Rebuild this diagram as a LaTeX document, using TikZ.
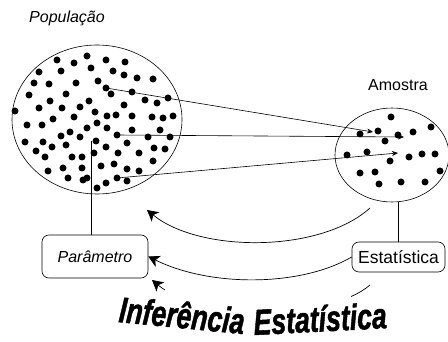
\documentclass[tikz,border=0pt]{standalone}
\usepackage{fontspec}
\newfontfamily\labelfont{Liberation Sans}
\newfontfamily\titlefont{Liberation Sans Bold Italic}[FakeBold=1.5]
\usetikzlibrary{arrows.meta,shapes.geometric}

\begin{document}
\begin{tikzpicture}[x=1pt,y=-1pt,>={Stealth[length=11pt,width=12pt,inset=3pt]},
    set/.style={draw,ellipse,line width=0.6pt,inner sep=0pt},
    box/.style={draw,rounded corners=7pt,line width=0.6pt,inner sep=0pt},
    word/.style={font=\labelfont\fontsize{16}{16}\selectfont},
    title/.style={inner sep=0pt,anchor=base west,font=\titlefont\fontsize{36}{36}\selectfont},
    pick/.style={-{Stealth[length=6pt,width=5pt]},line width=0.6pt},
    infer/.style={->,line width=0.7pt}]

                \useasboundingbox (0,0) rectangle (448,342);

                \node[set,minimum width=170pt,minimum height=149pt] (pop) at (97,119.5) {};

                \node[set,minimum width=114pt,minimum height=94pt] (amo) at (392,155) {};

                \node[word] (poplabel) at (67,18) {\itshape População};

                \node[word] (amolabel) at (398,85) {Amostra};

                \node[box,word,minimum width=106pt,minimum height=43pt] (par) at (95,256.5) {\itshape Parâmetro};

                \node[box,font=\labelfont\fontsize{17.5}{17.5}\selectfont,minimum width=93pt,minimum height=30pt] (est) at (398.5,257) {Estatística};

                % dots of the population
                \foreach \x/\y in {57/60, 74/63, 87/56, 106/60, 125/62, 39/72, 61/71, 91/68, 113/71, 124/75,
                    137/78, 153/79, 34/83, 49/84, 76/83, 98/81, 106/88, 111/94, 132/92, 145/100, 157/103,
                    168/98, 29/95, 50/101, 66/94, 89/101, 124/105, 15/111, 39/108, 80/107, 62/108, 95/112,
                    107/116, 116/115, 132/116, 152/117, 163/118, 173/116, 27/125, 42/125, 53/119, 74/117,
                    97/123, 107/128, 87/128, 70/132, 80/137, 61/136, 117/135, 132/130, 148/137, 160/130,
                    170/137, 25/142, 43/142, 52/147, 66/145, 96/141, 106/147, 127/143, 154/148, 165/149,
                    36/151, 45/157, 72/157, 82/157, 94/153, 118/153, 139/153, 153/161, 101/166, 114/164,
                    63/168, 82/168, 48/171, 127/169, 139/171, 68/178, 83/180, 87/178, 106/183, 117/178,
                    127/181, 97/188}
                    {
                    \fill (\x,\y) circle (3.5);
                    }

                % dots of the sample
                \foreach \x/\y in {391/117, 360/134, 378/131, 385/141, 398/135, 413/132, 431/127, 347/155,
                    367/152, 390/161, 409/157, 422/154, 435/154, 440/171, 360/173, 375/172, 379/184,
                    401/182, 425/182}
                    {
                    \fill (\x,\y) circle (3.5);
                    }

                \coordinate (p1) at (106,88);
                \coordinate (p2) at (117,135);
                \coordinate (p3) at (117,178);
                \coordinate (s1) at (373,132);
                \coordinate (s2) at (404,137);
                \coordinate (s3) at (398,153);

                \foreach \from/\to in {p1/s1, p2/s2, p3/s3}
                    {
                    \draw[pick] (\from) -- (\to);
                    }

                \coordinate (pp) at (91,141);
                \draw[line width=0.6pt] (pp) -- (pp |- par.north);
                \draw[line width=0.6pt] (est.north) -- (est.north |- amo.south);

                \coordinate (i1s) at (370,208);
                \coordinate (i1e) at (147,210);
                \coordinate (i3s) at (370,285);
                \coordinate (i3e) at (152,280);

                \draw[infer] (i1s) .. controls (320,253) and (200,253) .. (i1e);
                \draw[infer] (est.west) .. controls (300,287) and (210,287) .. (par.east);
                \draw[infer] (i3s) .. controls (330,320) and (200,320) .. (i3e);

                % backing of the title
                \fill[white] (165,289) rectangle (351,342);

                \node[title,rotate=-5.5] (infer1) at (118,322) {\scalebox{0.74}[1]{Inferência}};

                \node[title,rotate=3] (infer2) at (254,335) {\scalebox{0.74}[1]{Estatística}};

            \end{tikzpicture}
\end{document}
